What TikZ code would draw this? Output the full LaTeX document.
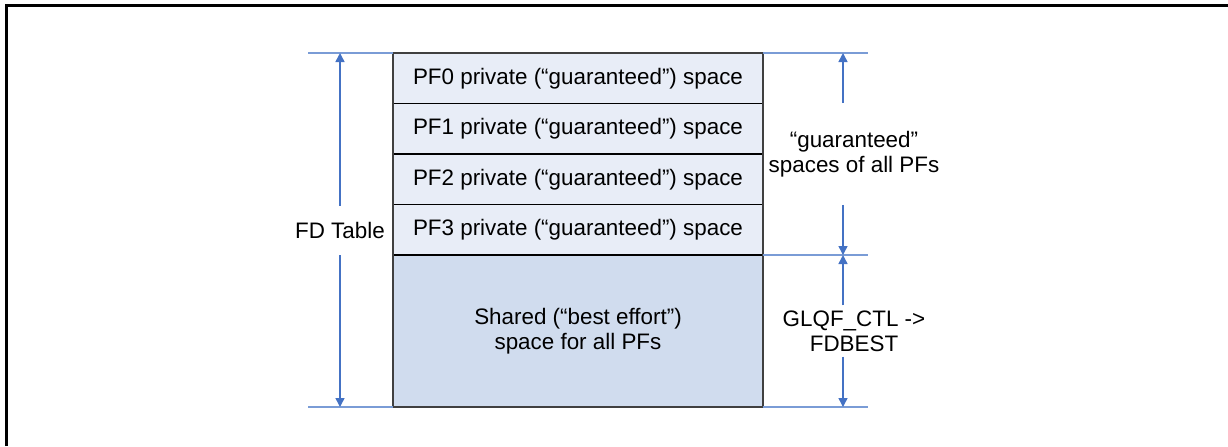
\documentclass[tikz,border=0pt]{standalone}
\usepackage{fontspec}
\setmainfont{Liberation Sans}
\usepackage{tikz}
\usetikzlibrary{arrows.meta, positioning}
\definecolor{rowfill}{RGB}{232,237,247}
\definecolor{sharedfill}{RGB}{208,220,238}
\definecolor{dimblue}{RGB}{68,114,196}
\definecolor{extblue}{RGB}{122,156,214}
\definecolor{tableedge}{RGB}{64,64,64}

\begin{document}
\begin{tikzpicture}[x=0.5pt,y=-0.5pt,
    font=\fontsize{11.2}{12.5}\selectfont,
    pfrow/.style={draw=black,line width=0.7pt,fill=rowfill,minimum width=185pt,
      minimum height=25.25pt,inner sep=0pt,outer sep=0pt},
    sharedbox/.style={draw=black,line width=0.7pt,fill=sharedfill,minimum width=185pt,
      minimum height=76pt,inner sep=0pt,outer sep=0pt,align=center},
    dimlabel/.style={inner xsep=2pt,outer sep=0pt,align=center},
    dimarrow/.style={dimblue,line width=0.75pt,-{Triangle[length=4.5pt,width=4.5pt]}},
    extline/.style={extblue,line width=0.6pt}]
			\useasboundingbox (0,0) rectangle (1228,446);
			% frame
			\draw[line width=1.3pt] (6.5,446) -- (6.5,5.5) -- (1228,5.5);
			% table rows
			\node[pfrow] (pf0) at (578,78.25) {PF0 private (“guaranteed”) space};
			\node[pfrow,below=0pt of pf0] (pf1) {PF1 private (“guaranteed”) space};
			\node[pfrow,below=0pt of pf1] (pf2) {PF2 private (“guaranteed”) space};
			\node[pfrow,below=0pt of pf2] (pf3) {PF3 private (“guaranteed”) space};
			\node[sharedbox,below=0pt of pf3] (shared) {Shared (“best effort”)\\space for all PFs};
			\draw[tableedge,line width=1pt] (pf0.north west) rectangle (shared.south east);
			% extension lines
			\coordinate (ltop) at (308,53);
			\coordinate (lbot) at (308,407);
			\coordinate (rtop) at (868,53);
			\coordinate (rmid) at (868,255);
			\coordinate (rbot) at (868,407);
			\draw[extline] (ltop) -- (pf0.north west);
			\draw[extline] (lbot) -- (shared.south west);
			\draw[extline] (pf0.north east) -- (rtop);
			\draw[extline] (pf3.south east) -- (rmid);
			\draw[extline] (shared.south east) -- (rbot);
			% left dimension
			\coordinate (fdtop) at (340,53);
			\coordinate (fdbot) at (340,407);
			\node[dimlabel,inner ysep=8.2pt] (fdlabel) at (340,230.5) {FD Table};
			\draw[dimarrow] (fdlabel) -- (fdtop);
			\draw[dimarrow] (fdlabel) -- (fdbot);
			% right dimensions
			\coordinate (gtop) at (843,53);
			\coordinate (gmid) at (843,255);
			\coordinate (gbot) at (843,407);
			\node[dimlabel,inner ysep=14pt] (guarlabel) at (854,154) {“guaranteed”\\spaces of all PFs};
			\draw[dimarrow] (guarlabel.north -| gtop) -- (gtop);
			\draw[dimarrow] (guarlabel.south -| gtop) -- (gmid);
			\node[dimlabel,inner ysep=2.6pt] (bestlabel) at (854,331) {GLQF\_CTL ->\\FDBEST};
			\draw[dimarrow] (bestlabel.north -| gmid) -- (gmid);
			\draw[dimarrow] (bestlabel.south -| gbot) -- (gbot);
		\end{tikzpicture}
\end{document}
